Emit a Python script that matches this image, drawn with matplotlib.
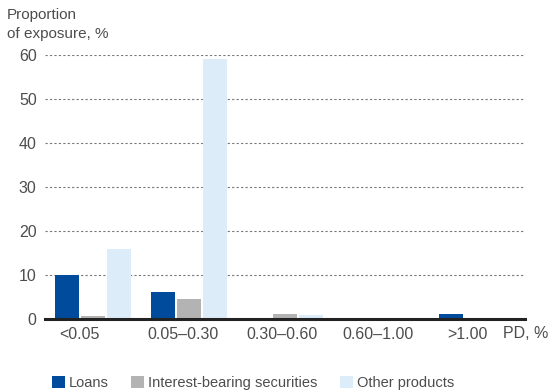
import numpy as np
import matplotlib.pyplot as plt

plt.rcParams['font.family'] = ['Liberation Sans', 'DejaVu Sans']

categories = ['<0.05', '0.05–0.30', '0.30–0.60', '0.60–1.00', '>1.00']
loans = [10.0, 6.2, 0.1, 0.0, 1.1]
securities = [0.7, 4.5, 1.1, 0.0, 0.05]
other = [16.0, 59.2, 0.9, 0.0, 0.2]
series_names = ['Loans', 'Interest-bearing securities', 'Other products']
colors = ['#004b9b', '#b3b3b3', '#dcedf9']
text_color = '#4d4d4d'

fig = plt.figure(figsize=(5.49, 3.91), dpi=100)
ax = fig.add_axes([45 / 549, 1 - 319 / 391, 480 / 549, 264 / 391])

x = np.arange(len(categories))
width = 0.25
step = 0.27
for i, (vals, name, c) in enumerate(zip([loans, securities, other], series_names, colors)):
    ax.bar(x + (i - 1) * step, vals, width, color=c, label=name, zorder=2, clip_on=False)

ax.set_xlim(-0.5, len(categories) - 0.5)
ax.set_ylim(0, 60)
ax.set_yticks(range(0, 61, 10))
for y in range(10, 61, 10):
    ax.axhline(y, color='#777777', linestyle=(0, (2, 2)), linewidth=0.8, zorder=1)
ax.axhline(0, color='#222222', linewidth=2.2, zorder=3, clip_on=False)

for s in ax.spines.values():
    s.set_visible(False)
ax.tick_params(axis='both', length=0, labelsize=11.5, colors=text_color)
ax.tick_params(axis='y', pad=6)
ax.tick_params(axis='x', pad=6)
# labels sit a little left of the group centres in the original
label_shift = [-0.14, -0.06, -0.03, -0.03, -0.10]
ax.set_xticks(x + np.array(label_shift))
ax.set_xticklabels(categories)

fig.text(548 / 549, 1 - 333 / 391, 'PD, %', ha='right', va='center', fontsize=11.5, color=text_color)
fig.text(7 / 549, 1 - 8 / 391, 'Proportion\nof exposure, %', ha='left', va='top',
         fontsize=11, color=text_color, linespacing=1.45)

leg = fig.legend(loc='lower center', bbox_to_anchor=(253 / 549, -0.03), ncol=3, frameon=False,
                 fontsize=10.5, handlelength=0.9, handleheight=0.9, handletextpad=0.3,
                 columnspacing=1.5)
for t in leg.get_texts():
    t.set_color(text_color)

fig.savefig('out.png', dpi=100)
